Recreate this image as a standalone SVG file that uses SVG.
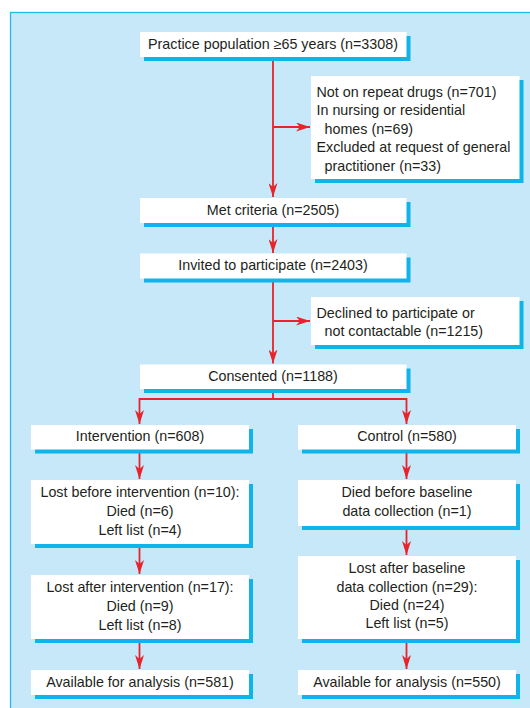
<svg xmlns="http://www.w3.org/2000/svg" width="530" height="708" viewBox="0 0 530 708">
<style>
.bg{fill:#c6e8f8;stroke:#27b9ee;stroke-width:1.3}
.sh{fill:#0fb4ea}
.bx{fill:#ffffff}
text{font-family:"Liberation Sans",Arial,sans-serif;font-size:14.3px;fill:#231f20}
.c{text-anchor:middle}
.ln{fill:none;stroke:#e8232b;stroke-width:1.8;stroke-linejoin:miter}
</style>
<defs>
<marker id="ah" markerUnits="userSpaceOnUse" viewBox="0 0 14 9" refX="14" refY="4.5" markerWidth="14" markerHeight="9" orient="auto">
<path d="M0,0 L14,4.5 L0,9 L4,4.5 Z" fill="#e8232b"/>
</marker>
</defs>
<rect class="bg" x="10.5" y="12.5" width="540" height="720"/>

<g id="connectors">
<path class="ln" d="M273,57 V197" marker-end="url(#ah)"/>
<path class="ln" d="M273,127 H310" marker-end="url(#ah)"/>
<path class="ln" d="M273,223 V253" marker-end="url(#ah)"/>
<path class="ln" d="M273,278 V363.5" marker-end="url(#ah)"/>
<path class="ln" d="M273,321 H310" marker-end="url(#ah)"/>
<path class="ln" d="M273,389 V399"/>
<path class="ln" d="M273,399 H139.5 V424" marker-end="url(#ah)"/>
<path class="ln" d="M273,399 H406.5 V424" marker-end="url(#ah)"/>
<path class="ln" d="M139.5,449 V479" marker-end="url(#ah)"/>
<path class="ln" d="M139.5,544 V574" marker-end="url(#ah)"/>
<path class="ln" d="M139.5,639 V669" marker-end="url(#ah)"/>
<path class="ln" d="M406.5,449 V479" marker-end="url(#ah)"/>
<path class="ln" d="M406.5,526 V555" marker-end="url(#ah)"/>
<path class="ln" d="M406.5,639 V669" marker-end="url(#ah)"/>
</g>

<g id="population">
<rect class="sh" x="144" y="36" width="266.5" height="25"/>
<rect class="bx" x="140" y="32" width="266.5" height="25"/>
<text class="c" x="273" y="48.5">Practice population ≥65 years (n=3308)</text>
</g>

<g id="excluded">
<rect class="sh" x="315" y="80" width="208.5" height="103"/>
<rect class="bx" x="311" y="76" width="208.5" height="103"/>
<text x="316.5" y="96.5">Not on repeat drugs (n=701)</text>
<text x="316.5" y="115">In nursing or residential</text>
<text x="324.5" y="133.5">homes (n=69)</text>
<text x="316.5" y="152">Excluded at request of general</text>
<text x="324.5" y="171">practitioner (n=33)</text>
</g>

<g id="met">
<rect class="sh" x="144" y="202" width="266.5" height="25"/>
<rect class="bx" x="140" y="198" width="266.5" height="25"/>
<text class="c" x="273" y="214.5">Met criteria (n=2505)</text>
</g>

<g id="invited">
<rect class="sh" x="144" y="257.5" width="266.5" height="25"/>
<rect class="bx" x="140" y="253.5" width="266.5" height="25"/>
<text class="c" x="273" y="270">Invited to participate (n=2403)</text>
</g>

<g id="declined">
<rect class="sh" x="315" y="301" width="208.5" height="48"/>
<rect class="bx" x="311" y="297" width="208.5" height="48"/>
<text x="316.5" y="317.5">Declined to participate or</text>
<text x="324.5" y="336">not contactable (n=1215)</text>
</g>

<g id="consented">
<rect class="sh" x="144" y="368.5" width="266.5" height="24.5"/>
<rect class="bx" x="140" y="364.5" width="266.5" height="24.5"/>
<text class="c" x="273" y="380.5">Consented (n=1188)</text>
</g>

<g id="intervention">
<rect class="sh" x="35" y="429" width="218" height="24.5"/>
<rect class="bx" x="31" y="425" width="218" height="24.5"/>
<text class="c" x="140" y="441">Intervention (n=608)</text>
</g>

<g id="control">
<rect class="sh" x="302" y="429" width="218" height="24.5"/>
<rect class="bx" x="298" y="425" width="218" height="24.5"/>
<text class="c" x="407" y="441">Control (n=580)</text>
</g>

<g id="lost-before">
<rect class="sh" x="35" y="484" width="218" height="64"/>
<rect class="bx" x="31" y="480" width="218" height="64"/>
<text class="c" x="140" y="497">Lost before intervention (n=10):</text>
<text class="c" x="140" y="516">Died (n=6)</text>
<text class="c" x="140" y="535">Left list (n=4)</text>
</g>

<g id="died-before-baseline">
<rect class="sh" x="302" y="484" width="218" height="46"/>
<rect class="bx" x="298" y="480" width="218" height="46"/>
<text class="c" x="407" y="497">Died before baseline</text>
<text class="c" x="407" y="515.5">data collection (n=1)</text>
</g>

<g id="lost-after">
<rect class="sh" x="35" y="579" width="218" height="64"/>
<rect class="bx" x="31" y="575" width="218" height="64"/>
<text class="c" x="140" y="592">Lost after intervention (n=17):</text>
<text class="c" x="140" y="611">Died (n=9)</text>
<text class="c" x="140" y="629.5">Left list (n=8)</text>
</g>

<g id="lost-after-baseline">
<rect class="sh" x="302" y="560" width="218" height="83"/>
<rect class="bx" x="298" y="556" width="218" height="83"/>
<text class="c" x="407" y="573">Lost after baseline</text>
<text class="c" x="407" y="591.5">data collection (n=29):</text>
<text class="c" x="407" y="609.5">Died (n=24)</text>
<text class="c" x="407" y="628">Left list (n=5)</text>
</g>

<g id="available-intervention">
<rect class="sh" x="35" y="674" width="218" height="25"/>
<rect class="bx" x="31" y="670" width="218" height="25"/>
<text class="c" x="140" y="686.5">Available for analysis (n=581)</text>
</g>

<g id="available-control">
<rect class="sh" x="302" y="674" width="218" height="25"/>
<rect class="bx" x="298" y="670" width="218" height="25"/>
<text class="c" x="407" y="686.5">Available for analysis (n=550)</text>
</g>
</svg>
